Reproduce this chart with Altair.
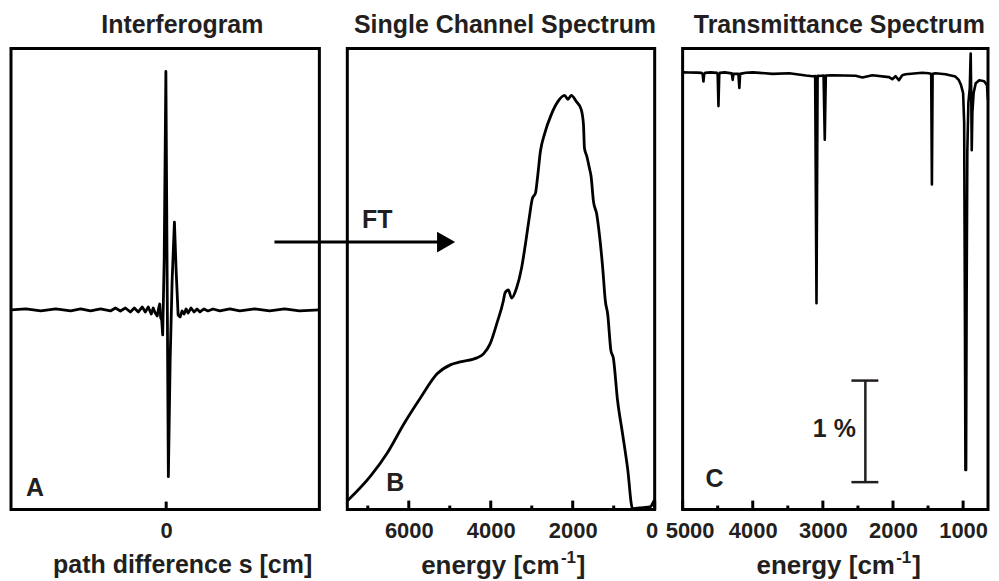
import altair as alt
import pandas as pd

FONT = "Liberation Sans"
INK = "#231f20"
LINE = "#000000"

# ---------------- Panel A : interferogram ----------------
a_path = [-1.56, -1.41, -1.26, -1.11, -0.96, -0.86, -0.76, -0.66, -0.56, -0.51,
          -0.46, -0.41, -0.36, -0.32, -0.28, -0.24, -0.21, -0.18, -0.15, -0.13,
          -0.11, -0.09, -0.075, -0.065, -0.055, -0.045, -0.035, -0.02, -0.003, 0.008,
          0.022, 0.04, 0.06, 0.083, 0.10, 0.12, 0.14, 0.16, 0.18, 0.20,
          0.22, 0.25, 0.28, 0.31, 0.34, 0.38, 0.42, 0.47, 0.54, 0.64,
          0.74, 0.89, 1.04, 1.19, 1.34, 1.54]
a_signal = [0.00, 0.01, -0.01, 0.01, -0.01, 0.01, -0.01, 0.01, -0.01, 0.02,
            -0.01, 0.02, -0.02, 0.02, -0.02, 0.03, -0.02, 0.03, -0.04, 0.02,
            -0.03, -0.06, 0.02, 0.06, -0.08, -0.10, -0.25, 0.50, 2.39, 0.60,
            -1.67, -0.50, 0.30, 0.88, 0.40, -0.05, -0.07, -0.01, -0.04, 0.01,
            -0.03, 0.02, -0.02, 0.01, -0.02, 0.01, -0.01, 0.01, -0.01, 0.01,
            -0.01, 0.01, -0.01, 0.01, -0.01, 0.00]
a_ticks = [0]

# ---------------- Panel B : single channel spectrum ----------------
b_energy = [7491, 6925, 6521, 6117, 5713, 5309, 4986, 4744, 4339, 4177,
            4017, 3855, 3693, 3652, 3571, 3491, 3370, 3248, 3143, 3062,
            2982, 2909, 2861, 2788, 2683, 2521, 2359, 2198, 2117, 2036,
            1915, 1794, 1738, 1713, 1656, 1592, 1552, 1495, 1414, 1350,
            1268, 1204, 1147, 1067, 1010, 905, 784, 663, 541, 298,
            97, 41, 0]
b_signal = [0.09, 0.34, 0.57, 0.86, 1.12, 1.36, 1.45, 1.48, 1.52, 1.56,
            1.66, 1.86, 2.09, 2.17, 2.20, 2.12, 2.22, 2.42, 2.69, 2.92,
            3.12, 3.17, 3.32, 3.59, 3.77, 3.96, 4.09, 4.15, 4.11, 4.15,
            4.09, 4.01, 3.86, 3.62, 3.54, 3.42, 3.34, 3.09, 2.96, 2.76,
            2.42, 2.09, 1.96, 1.59, 1.52, 1.09, 0.76, 0.42, 0.01, 0.02,
            0.03, 0.07, 0.10]
b_major = [6000, 4000, 2000, 0]
b_minor = [7000, 5000, 3000, 1000]

# ---------------- Panel C : transmittance spectrum ----------------
c_energy = [5000, 4900, 4800, 4730, 4715, 4703, 4692, 4680, 4600, 4510,
            4500, 4489, 4478, 4470, 4400, 4300, 4286, 4275, 4205, 4191,
            4180, 4100, 4000, 3900, 3717, 3479, 3243, 3148, 3110, 3091,
            3075, 3053, 2990, 2973, 2958, 2863, 2532, 2437, 2294, 2057,
            2010, 1963, 1916, 1868, 1820, 1583, 1488, 1455, 1445, 1435,
            1393, 1252, 1110, 1060, 1030, 1000, 985, 975, 967, 958,
            950, 940, 925, 905, 892, 883, 877, 868, 850, 820,
            770, 700, 660, 645]
c_trans = [99.985, 99.984, 99.982, 99.980, 99.970, 99.895, 99.970, 99.980, 99.985, 99.980,
           99.960, 99.653, 99.960, 99.980, 99.985, 99.975, 99.911, 99.970, 99.970, 99.831,
           99.970, 99.982, 99.985, 99.980, 99.970, 99.976, 99.954, 99.947, 99.948, 97.712,
           99.950, 99.950, 99.954, 99.322, 99.954, 99.957, 99.952, 99.935, 99.957, 99.938,
           99.918, 99.947, 99.908, 99.957, 99.967, 99.981, 99.976, 99.970, 98.881, 99.970,
           99.976, 99.967, 99.944, 99.908, 99.860, 99.782, 99.490, 97.740, 96.070, 96.070,
           97.740, 99.200, 99.685, 99.830, 100.171, 99.685, 99.218, 99.588, 99.782, 99.879,
           99.908, 99.898, 99.860, 99.714]
c_major = [5000, 4000, 3000, 2000, 1000]
c_minor = [4500, 3500, 2500, 1500]
bar_energy = [2394]
bar_low = [95.95]
bar_high = [96.95]
bar_cap_from = [2593]
bar_cap_to = [2209]

panel_titles = ["Interferogram", "Single Channel Spectrum", "Transmittance Spectrum"]

# ---------------- layout ----------------
H = 462
WA, WB, WC = 309, 308, 306
GAP = 28

one = pd.DataFrame({"k": [0]})


def xaxis(values, edge_value=None, edge_shift=0):
    offset = 0
    if edge_value is not None:
        offset = {"condition": {"test": f"datum.value == {edge_value}", "value": edge_shift},
                  "value": 0}
    return alt.Axis(values=values, ticks=False, tickSize=0, domain=False, grid=False,
                    labelFont=FONT, labelFontSize=22, labelFontWeight="bold",
                    labelColor=INK, labelPadding=11, labelFlush=False,
                    labelOverlap=False, labelOffset=offset, title=None, format="d")


def text(t, x, y, size=25, align="center", baseline="alphabetic"):
    return alt.Chart(one).mark_text(
        text=t, font=FONT, fontSize=size, fontWeight="bold", color=INK,
        align=align, baseline=baseline
    ).encode(x=alt.value(x), y=alt.value(y))


def ticks(values, scale, axis, length):
    return alt.Chart(pd.DataFrame({"t": values})).mark_rule(
        color=LINE, strokeWidth=3
    ).encode(x=alt.X("t:Q", scale=scale, axis=axis),
             y=alt.value(H - length), y2=alt.value(H))


def energy_title(x0, y0):
    return [
        text("energy [cm", x0, y0, size=26, align="left"),
        text("-1", x0 + 140, y0 - 11, size=17, align="left"),
        text("]", x0 + 156, y0, size=26, align="left"),
    ]


# Panel A
xA = alt.Scale(domain=[-1.56, 1.54], nice=False, zero=False)
yA = alt.Scale(domain=[-2.0, 2.62], nice=False, zero=False)
axA = xaxis(a_ticks)
lineA = alt.Chart(pd.DataFrame({"s": a_path, "v": a_signal})).mark_line(
    color=LINE, strokeWidth=2.8, strokeJoin="round"
).encode(x=alt.X("s:Q", scale=xA, axis=axA), y=alt.Y("v:Q", scale=yA, axis=None))
panelA = alt.layer(
    lineA,
    ticks(a_ticks, xA, axA, 8),
    text(panel_titles[0], 171.7, -15.5),
    text("A", 24, 448),
    text("path difference s [cm]", 172, 525.7, size=25),
).properties(width=WA, height=H)

# Panel B
xB = alt.Scale(domain=[0, 7500], reverse=True, nice=False, zero=False)
yB = alt.Scale(domain=[0, 4.62], nice=False, zero=False)
axB = xaxis(b_major, 0, -3)
lineB = alt.Chart(pd.DataFrame({"e": b_energy, "v": b_signal})).mark_line(
    color=LINE, strokeWidth=2.8, strokeJoin="round", interpolate="monotone"
).encode(x=alt.X("e:Q", scale=xB, axis=axB), y=alt.Y("v:Q", scale=yB, axis=None))
arrow_line = alt.Chart(one).mark_rule(color=LINE, strokeWidth=3).encode(
    x=alt.value(-73), x2=alt.value(93), y=alt.value(194))
arrow_head = alt.Chart(one).mark_point(
    shape="triangle-right", filled=True, color=LINE, size=441, opacity=1
).encode(x=alt.value(99), y=alt.value(194))
panelB = alt.layer(
    lineB,
    ticks(b_major, xB, axB, 9),
    ticks(b_minor, xB, axB, 4),
    arrow_line, arrow_head,
    text(panel_titles[1], 158, -15.5),
    text("FT", 30, 179.7),
    text("B", 48, 443.7),
    *energy_title(74, 527),
).properties(width=WB, height=H)

# Panel C
xC = alt.Scale(domain=[645, 5000], reverse=True, nice=False, zero=False)
yC = alt.Scale(domain=[95.68, 100.22], nice=False, zero=False)
axC = xaxis(c_major, 5000, 7)
lineC = alt.Chart(pd.DataFrame({"e": c_energy, "t": c_trans})).mark_line(
    color=LINE, strokeWidth=2.6, strokeJoin="round"
).encode(x=alt.X("e:Q", scale=xC, axis=axC), y=alt.Y("t:Q", scale=yC, axis=None))
bar_df = pd.DataFrame({"e": bar_energy, "lo": bar_low, "hi": bar_high,
                       "c1": bar_cap_from, "c2": bar_cap_to})
bar_v = alt.Chart(bar_df).mark_rule(color=INK, strokeWidth=2.5).encode(
    x=alt.X("e:Q", scale=xC, axis=axC), y=alt.Y("lo:Q", scale=yC, axis=None), y2="hi:Q")
bar_lo = alt.Chart(bar_df).mark_rule(color=INK, strokeWidth=2.5).encode(
    x=alt.X("c1:Q", scale=xC, axis=axC), x2="c2:Q", y=alt.Y("lo:Q", scale=yC, axis=None))
bar_hi = alt.Chart(bar_df).mark_rule(color=INK, strokeWidth=2.5).encode(
    x=alt.X("c1:Q", scale=xC, axis=axC), x2="c2:Q", y=alt.Y("hi:Q", scale=yC, axis=None))
pct = alt.Chart(pd.DataFrame({"e": [2530], "t": [96.47], "lab": ["1 %"]})).mark_text(
    font=FONT, fontSize=25, fontWeight="bold", color=INK, align="right", baseline="middle"
).encode(x=alt.X("e:Q", scale=xC, axis=axC), y=alt.Y("t:Q", scale=yC, axis=None), text="lab:N")
panelC = alt.layer(
    lineC,
    ticks(c_major, xC, axC, 9),
    ticks(c_minor, xC, axC, 4),
    bar_v, bar_lo, bar_hi, pct,
    text(panel_titles[2], 157, -15.5),
    text("C", 32, 439.7),
    *energy_title(74, 527),
).properties(width=WC, height=H)

chart = alt.hconcat(panelA, panelB, panelC, spacing=GAP, bounds="flush").properties(
    padding={"left": 0, "top": 3, "right": 0, "bottom": 0}, background="white"
).configure_view(stroke=LINE, strokeWidth=3)

chart.save("out.html", embed_options={"renderer": "svg", "actions": False})
